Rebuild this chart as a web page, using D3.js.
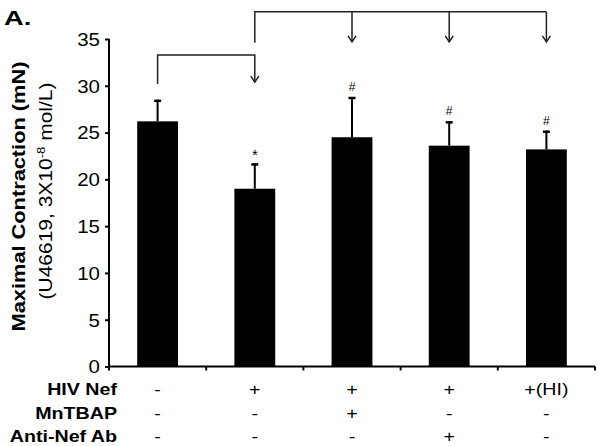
<!DOCTYPE html>
<html><head><meta charset="utf-8">
<script src="https://cdn.jsdelivr.net/npm/d3@7"></script>
<style>body{margin:0;background:#fff}svg{display:block;font-family:"Liberation Sans",Arial,sans-serif}</style>
</head><body><svg id="c" width="600" height="446"></svg>
<script>
const categories = ["g1","g2","g3","g4","g5"];
const means = [26.2, 19.0, 24.5, 23.6, 23.2];
const errors = [2.3, 2.7, 4.3, 2.6, 2.0];
const marks = ["", "*", "#", "#", "#"];
const yTicks = [0,5,10,15,20,25,30,35];
const rowLabels = ["HIV Nef","MnTBAP","Anti-Nef Ab"];
const rowHIV = ["-","+","+","+","+(HI)"];
const rowMn = ["-","-","+","-","-"];
const rowAb = ["-","-","-","+","-"];
const rows = [rowHIV,rowMn,rowAb];

const SX = 1.17; // horizontal widening of the reference lettering
const svg = d3.select("#c");
const x = d3.scaleBand().domain(categories).range([109,595]).paddingInner(0.58).paddingOuter(0.29);
const y = d3.scaleLinear().domain([0,35]).range([366.5,39]);
const cx = c => x(c) + x.bandwidth()/2;

function txt(px, py, s, o={}){
  const g = svg.append("g").attr("transform", `translate(${px},${py})${o.rot?" rotate(-90)":""} scale(${o.sx||SX},1)`);
  const t = g.append("text").attr("text-anchor", o.anchor||"middle").attr("font-size", o.size||17)
    .attr("font-weight", o.bold?"bold":"normal").attr("fill","#000");
  if (s !== null) t.text(s);
  return t;
}

// bars
svg.selectAll("rect.bar").data(categories).join("rect").attr("class","bar")
  .attr("x", d=>x(d)).attr("width", x.bandwidth())
  .attr("y", (d,i)=>y(means[i])).attr("height",(d,i)=>y(0)-y(means[i]))
  .attr("fill","#000");
// error bars
categories.forEach((c,i)=>{
  const top = y(means[i]+errors[i]);
  svg.append("line").attr("x1",cx(c)).attr("x2",cx(c)).attr("y1",y(means[i])).attr("y2",top)
    .attr("stroke","#000").attr("stroke-width",2);
  svg.append("line").attr("x1",cx(c)-3.5).attr("x2",cx(c)+3.5).attr("y1",top+1).attr("y2",top+1)
    .attr("stroke","#000").attr("stroke-width",2.5);
  if(marks[i]) txt(cx(c), marks[i]==="*" ? top-3 : top-6, marks[i], {size: marks[i]==="*"?15:12, sx:1});
});

// y axis
const ya = svg.append("g").attr("transform","translate(109,0)")
  .call(d3.axisLeft(y).tickValues(yTicks).tickSize(4).tickPadding(5));
ya.select(".domain").attr("stroke-width",2).attr("d","M0,366.5V39");
ya.selectAll(".tick line").attr("stroke-width",2);
ya.selectAll(".tick text").attr("font-size",17.5).attr("fill","#000").attr("dy","0.36em")
  .attr("x",0).attr("transform",`translate(-9,0) scale(${SX},1)`)
  .attr("font-family","'Liberation Sans',Arial,sans-serif");

// x axis
svg.append("line").attr("x1",109).attr("x2",595).attr("y1",y(0)).attr("y2",y(0)).attr("stroke","#000").attr("stroke-width",2);
const bounds = categories.map(c=>x(c)-x.step()*x.paddingInner()/2).concat([595]);
svg.selectAll("line.xt").data(bounds).join("line").attr("class","xt")
  .attr("x1",d=>d).attr("x2",d=>d).attr("y1",y(0)).attr("y2",y(0)+4).attr("stroke","#000").attr("stroke-width",2);

// table
const rowY = [395, 418.5, 442];
rowLabels.forEach((l,r)=>{
  txt(117, rowY[r], l, {anchor:"end", bold:true, size:16.8});
  categories.forEach((c,i)=>{ txt(cx(c), rowY[r], rows[r][i], {size:16.8}); });
});

// y label
txt(25, 196.5, "Maximal Contraction (mN)", {rot:true, bold:true, size:18.3, sx:1.19});
const t2 = txt(52, 191, null, {rot:true, size:17.5, sx:1.2});
t2.append("tspan").text("(U46619, 3X10");
t2.append("tspan").attr("dy",-7).attr("font-size",11).text("-8");
t2.append("tspan").attr("dy",7).text(" mol/L)");

// title
txt(4, 25, "A.", {anchor:"start", bold:true, size:21, sx:1.3});

// brackets
const bc = "#222";
const head = (px,tip)=>`M${px-4},${tip-6}L${px},${tip}L${px+4},${tip-6}`;
const b1Top = y(33.3), b1Left = y(30.2), b1Tip = y(30.4);
svg.append("path").attr("d",`M${cx("g1")},${b1Left}V${b1Top}H${cx("g2")}V${b1Tip}`).attr("fill","none").attr("stroke",bc).attr("stroke-width",1.5);
svg.append("path").attr("d",head(cx("g2"),b1Tip)).attr("fill","none").attr("stroke",bc).attr("stroke-width",1.5);
const b2Top = y(37.9), b2Left = y(34.6), b2Tip = y(34.7);
svg.append("path").attr("d",`M${cx("g2")},${b2Left}V${b2Top}H${cx("g5")}`).attr("fill","none").attr("stroke",bc).attr("stroke-width",1.5);
["g3","g4","g5"].forEach(c=>{
  svg.append("path").attr("d",`M${cx(c)},${b2Top}V${b2Tip}`).attr("fill","none").attr("stroke",bc).attr("stroke-width",1.5);
  svg.append("path").attr("d",head(cx(c),b2Tip)).attr("fill","none").attr("stroke",bc).attr("stroke-width",1.5);
});
</script></body></html>
